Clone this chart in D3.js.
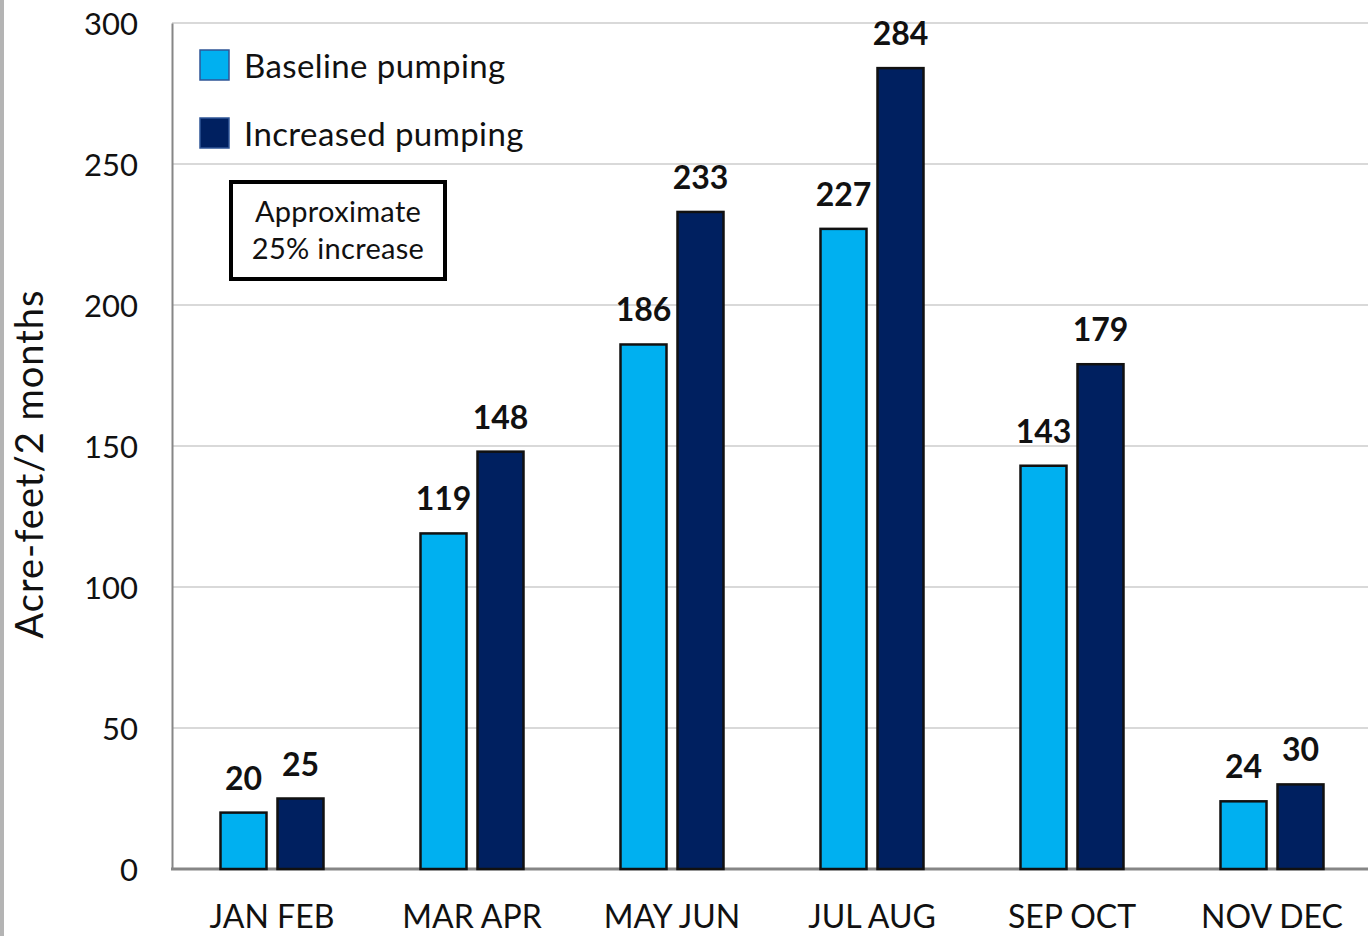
<!DOCTYPE html>
<html>
<head>
<meta charset="utf-8">
<script src="https://cdn.jsdelivr.net/npm/d3@7"></script>
<style>
  html, body { margin: 0; padding: 0; background: #fff; }
  svg { display: block; }
  text { font-family: Lato, "Open Sans", sans-serif; }
</style>
</head>
<body>
<svg id="chart" width="1368" height="936"></svg>
<script>
const categories = ["JAN FEB", "MAR APR", "MAY JUN", "JUL AUG", "SEP OCT", "NOV DEC"];
const seriesNames = ["Baseline pumping", "Increased pumping"];
const baseline = [20, 119, 186, 227, 143, 24];
const increased = [25, 148, 233, 284, 179, 30];
const yTicks = [0, 50, 100, 150, 200, 250, 300];
const colors = ["#00b0f0", "#002060"];
const yTitle = "Acre-feet/2 months";
const noteLines = ["Approximate", "25% increase"];

(function () {
const svg = d3.select("#chart");
const W = 1368, H = 936;
const mLeft = 172, mTop = 23, mBottom = 869, mRight = 1372;

// left page edge
svg.append("rect").attr("x", 0).attr("y", 0).attr("width", 4).attr("height", H).attr("fill", "#b4b4b4");

const y = d3.scaleLinear().domain([0, 300]).range([mBottom, mTop]);
const x0 = d3.scaleBand().domain(categories).range([mLeft, mRight]).paddingInner(0.485).paddingOuter(0.2425);
const x1 = d3.scaleBand().domain(seriesNames).range([0, x0.bandwidth()]).paddingInner(0.193);

// gridlines
svg.append("g").selectAll("line").data(yTicks.filter(t => t > 0)).join("line")
  .attr("x1", mLeft).attr("x2", W).attr("y1", d => y(d)).attr("y2", d => y(d))
  .attr("stroke", "#d9d9d9").attr("stroke-width", 2);

// y axis
const yAxis = svg.append("g").attr("transform", `translate(${mLeft},0)`)
  .call(d3.axisLeft(y).tickValues(yTicks).tickSize(0).tickPadding(34));
yAxis.select(".domain").attr("stroke", "#868686").attr("stroke-width", 2);
yAxis.selectAll("text").attr("font-size", 31).attr("fill", "#111").attr("font-family", "Lato")
  .attr("dy", "0.36em");

// x axis
const xAxis = svg.append("g").attr("transform", `translate(0,${mBottom})`)
  .call(d3.axisBottom(x0).tickSize(0).tickPadding(36));
xAxis.select(".domain").remove();
svg.append("line").attr("x1", mLeft - 1).attr("x2", W).attr("y1", mBottom).attr("y2", mBottom)
  .attr("stroke", "#868686").attr("stroke-width", 3);
xAxis.selectAll("text").attr("font-size", 32).attr("fill", "#111").attr("font-family", "Lato")
  .attr("dy", "0.71em");

// bars
const data = categories.map((c, i) => ({ cat: c, vals: [
  { s: seriesNames[0], v: baseline[i], c: colors[0] },
  { s: seriesNames[1], v: increased[i], c: colors[1] } ] }));

const groups = svg.append("g").selectAll("g").data(data).join("g")
  .attr("transform", d => `translate(${x0(d.cat)},0)`);
groups.selectAll("rect").data(d => d.vals).join("rect")
  .attr("x", d => x1(d.s)).attr("width", x1.bandwidth())
  .attr("y", d => y(d.v)).attr("height", d => y(0) - y(d.v))
  .attr("fill", d => d.c).attr("stroke", "#111").attr("stroke-width", 2.5);
groups.selectAll("text").data(d => d.vals).join("text")
  .attr("x", d => x1(d.s) + x1.bandwidth() / 2).attr("y", d => y(d.v) - 23)
  .attr("text-anchor", "middle").attr("font-size", 32).attr("font-weight", 700).attr("fill", "#111")
  .text(d => d.v);

// legend
const legend = svg.append("g");
seriesNames.forEach((s, i) => {
  const ly = [50, 118][i];
  legend.append("rect").attr("x", 200).attr("y", ly).attr("width", 29).attr("height", 30)
    .attr("fill", colors[i]).attr("stroke", "#2f5597").attr("stroke-width", 1.5);
  legend.append("text").attr("x", 244).attr("y", ly + 28).attr("font-size", 33)
    .attr("letter-spacing", 0.4).attr("fill", "#111").text(s);
});

// annotation box
svg.append("rect").attr("x", 231).attr("y", 182).attr("width", 214).attr("height", 97)
  .attr("fill", "#fff").attr("stroke", "#000").attr("stroke-width", 4);
noteLines.forEach((t, i) => {
  svg.append("text").attr("x", 338).attr("y", [222, 259][i]).attr("text-anchor", "middle")
    .attr("font-size", 29).attr("letter-spacing", 0.3).attr("fill", "#111").text(t);
});

// y title
svg.append("text").attr("transform", `translate(43,464) rotate(-90)`)
  .attr("text-anchor", "middle").attr("font-size", 38).attr("letter-spacing", 1).attr("fill", "#111").text(yTitle);
})();
</script>
</body>
</html>
